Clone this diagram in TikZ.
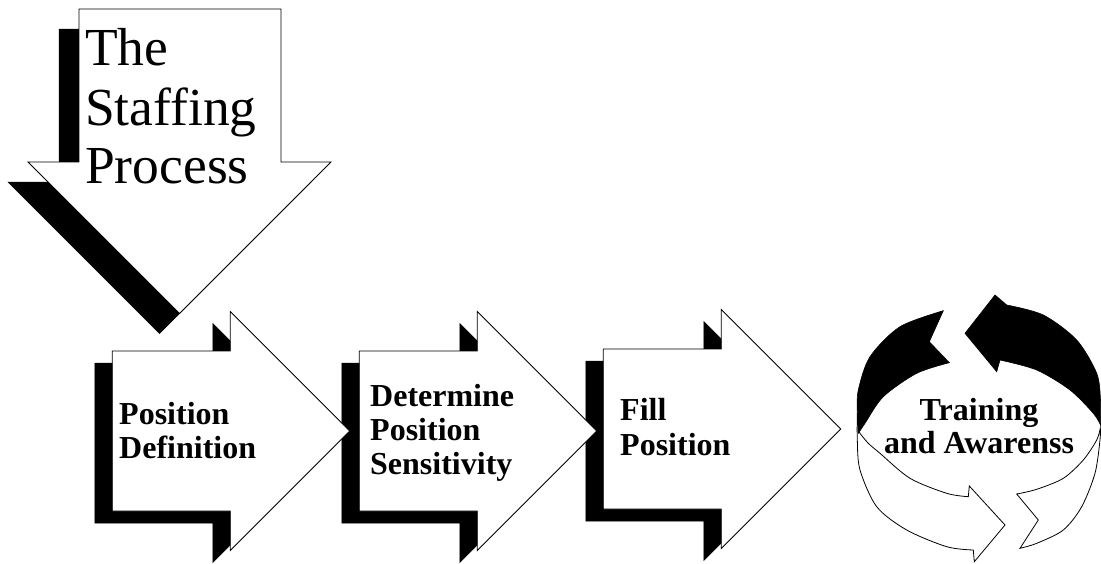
\documentclass[tikz,border=0pt]{standalone}
\usepackage{fontspec}
\setmainfont{Liberation Serif}
\begin{document}
\begin{tikzpicture}[x=1pt,y=-1pt,
  shadowfill/.style={fill=black,draw=black,line width=0.5pt},
  whitefill/.style={fill=white,draw=black,line width=0.8pt,line join=miter},
  ringblack/.style={fill=black,draw=black,line width=0.6pt},
  bigtext/.style={font=\fontsize{53.5}{59}\selectfont,inner sep=0pt,anchor=base west},
  steptext/.style={font=\fontsize{32}{34}\bfseries\selectfont,inner sep=0pt,anchor=base west},
  ringtext/.style={font=\fontsize{32}{34}\bfseries\selectfont,inner sep=0pt,anchor=base}]
\useasboundingbox (0,0) rectangle (1101,563);
\fill[white] (0,0) rectangle (1101,563);

% ---- shadows ----
\path[shadowfill,shift={(-20,20)}] (79,9) -- (281,9) -- (281,162) -- (331,162) -- (179.5,313.5) -- (28,162) -- (79,162) -- cycle;
\foreach \x/\y in {112.3/431, 359.3/431, 603.3/429}{
  \path[shadowfill] (\x-17.5,\y-68) -- ++(118,0) -- ++(0,-39.5) -- ++(119.5,119.5) -- ++(-119.5,119.5) -- ++(0,-39.5) -- ++(-118,0) -- cycle;
}

% ---- white arrows ----
\path[whitefill] (79,9) -- (281,9) -- (281,162) -- (331,162) -- (179.5,313.5) -- (28,162) -- (79,162) -- cycle;
\foreach \x/\y in {112.3/431, 359.3/431, 603.3/429}{
  \path[whitefill] (\x,\y-80) -- ++(118,0) -- ++(0,-39.5) -- ++(119.5,119.5) -- ++(-119.5,119.5) -- ++(0,-39.5) -- ++(-118,0) -- cycle;
}

% ---- texts ----
\node[bigtext] (s1) at (85,65) {The};
\node[bigtext] (s2) at (85,125.5) {Staffing};
\node[bigtext] (s3) at (85,183) {Process};

\node[steptext] (a1) at (119,424) {Position};
\node[steptext] (a2) at (119,458.3) {Definition};

\node[steptext] (b1) at (370,406.7) {Determine};
\node[steptext] (b2) at (370,440) {Position};
\node[steptext] (b3) at (370,474) {Sensitivity};

\node[steptext] (c1) at (620,420.7) {Fill};
\node[steptext] (c2) at (620,455.7) {Position};

% ---- ring: white front parts ----
\path[whitefill] plot[smooth] coordinates {(859,432) (868,443) (880,453.3) (910,478.3) (946.7,493.3) (968.3,496.7)}
  -- (969.3,486) -- (1005,525) -- (974.3,561.7)
  -- plot[smooth] coordinates {(973.3,550) (946.7,546.7) (906.7,530) (876.7,506.7) (860,470) (857.3,440) (857.3,413)} -- cycle;
\path[whitefill] plot[smooth] coordinates {(1016.7,494) (1036.7,489.3) (1063.3,478.3) (1083.3,460) (1096.7,440) (1100.3,428)}
  -- plot[smooth] coordinates {(1100.3,428) (1100,440) (1095,473.3) (1081.7,506.7) (1063.3,530) (1036.7,543.3) (1020,548.3)}
  -- (1038.3,520) -- cycle;

% ---- ring: black back parts ----
\path[ringblack] plot[smooth] coordinates {(943.3,310.7) (900,326.7) (870,356.7) (858.3,390) (857.3,413) (858.5,433)}
  -- plot[smooth] coordinates {(858.5,433) (865,423.3) (883.3,396.7) (916.7,373.3) (949.3,362.7)}
  -- (929.3,341.7) -- cycle;
\path[ringblack] (965,333.3) -- (995,295)
  -- plot[smooth] coordinates {(1006.7,305) (1043.3,315) (1076.7,340) (1096.7,373.3) (1100.5,400) (1100.5,425)}
  -- plot[smooth] coordinates {(1100.5,425) (1093.3,413.3) (1070,390) (1036.7,370) (1000,360)}
  -- (996.7,371.7) -- cycle;

\node[ringtext] (r1) at (979,420) {Training};
\node[ringtext] (r2) at (979,453.3) {and Awarenss};
\end{tikzpicture}
\end{document}
